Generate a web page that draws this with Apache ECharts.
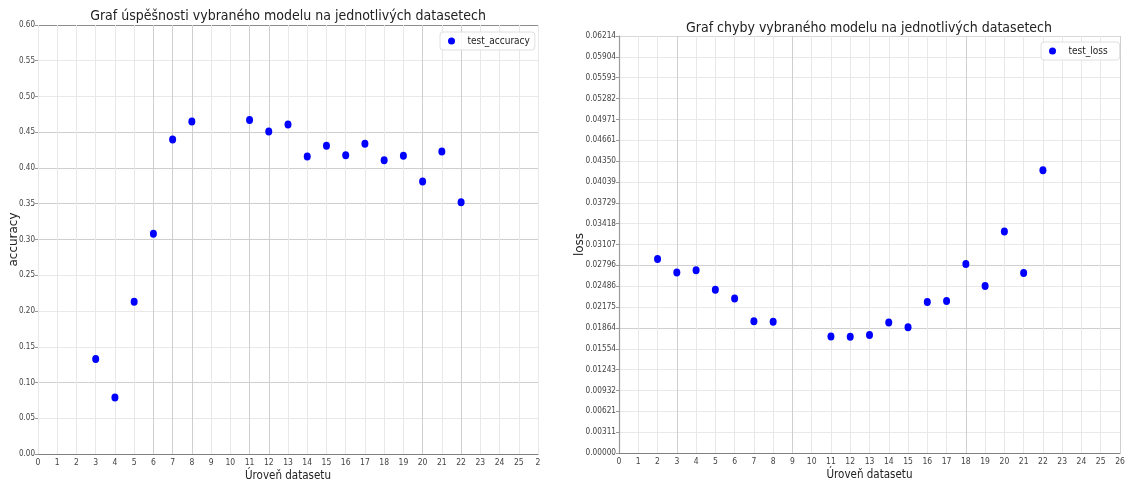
<!DOCTYPE html>
<html>
<head>
<meta charset="utf-8">
<script src="https://cdn.jsdelivr.net/npm/echarts@6/dist/echarts.min.js"></script>
<style>
  html, body { margin: 0; padding: 0; background: #fff; }
  #chart { width: 1127px; height: 482px; }
</style>
</head>
<body>
<div id="chart"></div>
<script>
// left chart: accuracy per dataset level
const accLevels = [3, 4, 5, 6, 7, 8, 11, 12, 13, 14, 15, 16, 17, 18, 19, 20, 21, 22];
const accValues = [0.133, 0.079, 0.213, 0.308, 0.440, 0.465, 0.467, 0.451, 0.461, 0.416, 0.431, 0.418, 0.434, 0.411, 0.417, 0.381, 0.423, 0.352];

// right chart: loss per dataset level
const lossLevels = [2, 3, 4, 5, 6, 7, 8, 11, 12, 13, 14, 15, 16, 17, 18, 19, 20, 21, 22];
const lossValues = [0.02892, 0.02690, 0.02725, 0.02433, 0.02303, 0.01965, 0.01955, 0.01736, 0.01732, 0.01760, 0.01945, 0.01875, 0.02250, 0.02264, 0.02815, 0.02488, 0.03299, 0.02682, 0.04215];

// tick labels
const accXTicks = ['0','1','2','3','4','5','6','7','8','9','10','11','12','13','14','15','16','17','18','19','20','21','22','23','24','25','2'];
const lossXTicks = ['0','1','2','3','4','5','6','7','8','9','10','11','12','13','14','15','16','17','18','19','20','21','22','23','24','25','26'];
const accYTicks = ['0.00','0.05','0.10','0.15','0.20','0.25','0.30','0.35','0.40','0.45','0.50','0.55','0.60'];
const lossYTicks = ['0.00000','0.00311','0.00621','0.00932','0.01243','0.01554','0.01864','0.02175','0.02486','0.02796','0.03107',
  '0.03418','0.03729','0.04039','0.04350','0.04661','0.04971','0.05282','0.05593','0.05904','0.06214'];

const accStep = 0.05;
const lossStep = 0.003107;

const narrow = '"DejaVu Sans Condensed", "Liberation Sans Narrow", sans-serif';
const light = '#e8e8e8';
const mid = '#cfcfcf';

const chart = echarts.init(document.getElementById('chart'));

const option = {
  animation: false,
  backgroundColor: '#fff',
  title: [
    {
      text: 'Graf úspěšnosti vybraného modelu na jednotlivých datasetech',
      left: 288, top: 9, textAlign: 'center', padding: 0,
      textStyle: { fontFamily: narrow, fontSize: 14, fontWeight: 'normal', color: '#222' }
    },
    {
      text: 'Graf chyby vybraného modelu na jednotlivých datasetech',
      left: 869, top: 21, textAlign: 'center', padding: 0,
      textStyle: { fontFamily: narrow, fontSize: 14, fontWeight: 'normal', color: '#222' }
    }
  ],
  legend: [
    {
      data: ['test_accuracy'],
      left: 440, top: 32,
      padding: [4, 5, 4, 8],
      itemWidth: 22, itemHeight: 7,
      icon: 'circle',
      borderColor: '#e0e0e0', borderWidth: 1, borderRadius: 3,
      backgroundColor: 'rgba(255,255,255,0.85)',
      textStyle: { fontFamily: narrow, fontSize: 10, color: '#222' }
    },
    {
      data: ['test_loss'],
      left: 1041, top: 42,
      padding: [4, 12, 4, 8],
      itemWidth: 22, itemHeight: 7,
      icon: 'circle',
      borderColor: '#e0e0e0', borderWidth: 1, borderRadius: 3,
      backgroundColor: 'rgba(255,255,255,0.85)',
      textStyle: { fontFamily: narrow, fontSize: 10, color: '#222' }
    }
  ],
  grid: [
    { left: 38, right: 589, top: 25, bottom: 28, outerBoundsMode: 'none' },
    { left: 619, right: 7, top: 36, bottom: 29, outerBoundsMode: 'none' }
  ],
  xAxis: [
    {
      gridIndex: 0, type: 'value', min: 0, max: 26, interval: 1,
      name: 'Úroveň datasetu', nameLocation: 'middle', nameGap: 16, nameMoveOverlap: false,
      nameTextStyle: { fontFamily: narrow, fontSize: 11.5, color: '#222' },
      axisLine: { show: true, lineStyle: { color: '#808080', width: 1.2 } },
      axisTick: { show: false },
      axisLabel: {
        margin: 4, fontFamily: narrow, fontSize: 8.5, color: '#444',
        formatter: v => accXTicks[Math.round(v)]
      },
      splitLine: {
        show: true,
        lineStyle: {
          color: [light, light, light, light, light, light, mid, mid, mid, light, light, mid, mid, light,
            light, light, light, light, light, light, mid, light, mid, light, light, light, light]
        }
      }
    },
    {
      gridIndex: 1, type: 'value', min: 0, max: 26, interval: 1,
      name: 'Úroveň datasetu', nameLocation: 'middle', nameGap: 16, nameMoveOverlap: false,
      nameTextStyle: { fontFamily: narrow, fontSize: 11.5, color: '#222' },
      axisLine: { show: true, lineStyle: { color: '#808080', width: 1.2 } },
      axisTick: { show: false },
      axisLabel: {
        margin: 4, fontFamily: narrow, fontSize: 8.5, color: '#444',
        formatter: v => lossXTicks[Math.round(v)]
      },
      splitLine: {
        show: true,
        lineStyle: {
          color: [light, light, light, mid, light, light, light, light, light, mid, light, light, light, light,
            light, light, light, light, mid, light, light, light, light, light, light, light, mid]
        }
      }
    }
  ],
  yAxis: [
    {
      gridIndex: 0, type: 'value', min: 0, max: 0.6, interval: accStep,
      name: 'accuracy', nameLocation: 'middle', nameGap: 18, nameRotate: 90, nameMoveOverlap: false,
      nameTextStyle: { fontFamily: 'DejaVu Sans', fontSize: 12, color: '#222' },
      axisLine: { show: false },
      axisTick: { show: true, length: 3, lineStyle: { color: '#999' } },
      axisLabel: {
        margin: 3, fontFamily: narrow, fontSize: 8, color: '#444',
        formatter: v => accYTicks[Math.round(v / accStep)]
      },
      splitLine: {
        show: true,
        lineStyle: {
          color: [light, light, mid, light, light, light, mid, mid, mid, mid, light, light, '#8c8c8c']
        }
      }
    },
    {
      gridIndex: 1, type: 'value', min: 0, max: 0.06214, interval: lossStep,
      name: 'loss', nameLocation: 'middle', nameGap: 33, nameRotate: 90, nameMoveOverlap: false,
      nameTextStyle: { fontFamily: 'DejaVu Sans', fontSize: 12, color: '#222' },
      axisLine: { show: true, lineStyle: { color: '#9a9a9a', width: 1.2 } },
      axisTick: { show: true, length: 3, lineStyle: { color: '#999' } },
      axisLabel: {
        margin: 3, fontFamily: narrow, fontSize: 8.2, color: '#444',
        formatter: v => lossYTicks[Math.round(v / lossStep)]
      },
      splitLine: {
        show: true,
        lineStyle: {
          color: [light, light, light, light, light, light, mid, light, light, mid, light,
            light, light, light, light, light, light, light, light, light, '#d8d8d8']
        }
      }
    }
  ],
  series: [
    {
      name: 'test_accuracy',
      type: 'scatter',
      xAxisIndex: 0, yAxisIndex: 0,
      symbol: 'circle', symbolSize: [7, 8],
      itemStyle: { color: '#0000ff', opacity: 1 },
      data: accLevels.map((lvl, i) => [lvl, accValues[i]])
    },
    {
      name: 'test_loss',
      type: 'scatter',
      xAxisIndex: 1, yAxisIndex: 1,
      symbol: 'circle', symbolSize: [7, 8],
      itemStyle: { color: '#0000ff', opacity: 1 },
      data: lossLevels.map((lvl, i) => [lvl, lossValues[i]])
    }
  ]
};

chart.setOption(option);
</script>
</body>
</html>
